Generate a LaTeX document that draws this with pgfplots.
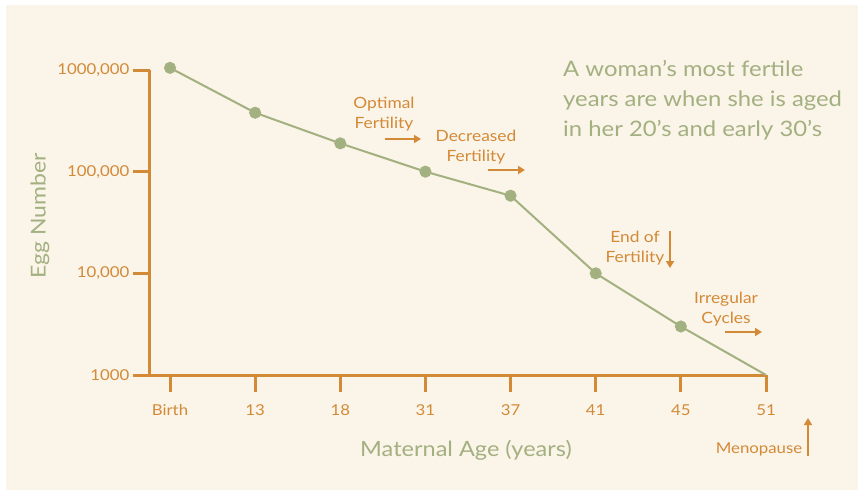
\documentclass[border=0pt]{standalone}
\usepackage{pgfplots}
\pgfplotsset{compat=1.18}
\usetikzlibrary{arrows.meta}
\usepackage{fontspec}
\setmainfont{Lato}[FakeStretch=1.12]
\definecolor{bg}{HTML}{FBF4E9}
\definecolor{org}{HTML}{D38A37}
\definecolor{grn}{HTML}{A3B080}
\begin{document}
\begin{tikzpicture}[x=1pt,y=1pt]
\fill[white] (0,0) rectangle (868,-496);
\fill[bg] (6,-5) rectangle (858,-490);
\begin{axis}[at={(150pt,-375pt)}, anchor=south west,
  scale only axis, width=616pt, height=305pt,
  ymode=log, ymin=1000, ymax=1000000, xmin=-0.235, xmax=7,
  axis x line*=bottom, axis y line*=left,
  axis line style={org, line width=3pt},
  every tick/.style={org, line width=3pt},
  major tick length=17pt, tick align=outside,
  xtick={0,...,7}, xticklabels={Birth,13,18,31,37,41,45,51},
  ytick={1000,10000,100000,1000000}, yticklabels={1000,{10,000},{100,000},{1000,000}},
  yminorticks=false,
  ticklabel style={font=\fontsize{15}{17}\selectfont, text=org},
  xticklabel style={yshift=-9pt},
  /pgf/number format/assume math mode=true,
  clip=false,
]
\addplot[grn, line width=2pt, mark=*, mark size=5pt, mark options={fill=grn, draw=grn}, mark indices={1,2,3,4,5,6,7}] coordinates {
(0,1050000) (1,380000) (2,190000) (3,100000) (4,58000) (5,10000) (6,3000) (7,1000)};
\end{axis}
\node[grn, rotate=90, font=\fontsize{20.5}{24}\selectfont] at (40,-216) {Egg Number};
\node[grn, font=\fontsize{21}{24}\selectfont] at (466,-450) {Maternal Age (years)};
\node[org, font=\fontsize{15}{17}\selectfont] at (759,-449) {Menopause};
\node[grn, anchor=north west, align=left, font=\fontsize{21.3}{30}\selectfont, inner sep=0pt] at (563,-60) {A woman’s most fertile\\years are when she is aged\\in her 20’s and early 30’s};
\node[org, align=center, font=\fontsize{15.5}{20}\selectfont] at (384,-114) {Optimal\\Fertility};
\node[org, align=center, font=\fontsize{15.5}{20}\selectfont] at (476,-147) {Decreased\\Fertility};
\node[org, align=center, font=\fontsize{15.5}{20}\selectfont] at (635,-248) {End of\\Fertility};
\node[org, align=center, font=\fontsize{15.5}{20}\selectfont] at (726,-309) {Irregular\\Cycles};
\begin{scope}[org, line width=2.5pt, -{Triangle[length=7pt,width=8pt]}]
\draw (385,-139) -- (421,-139);
\draw (488,-170) -- (525,-170);
\draw (670,-231) -- (670,-268);
\draw (725,-332) -- (762,-332);
\draw (808,-456) -- (808,-418);
\end{scope}
\end{tikzpicture}
\end{document}
